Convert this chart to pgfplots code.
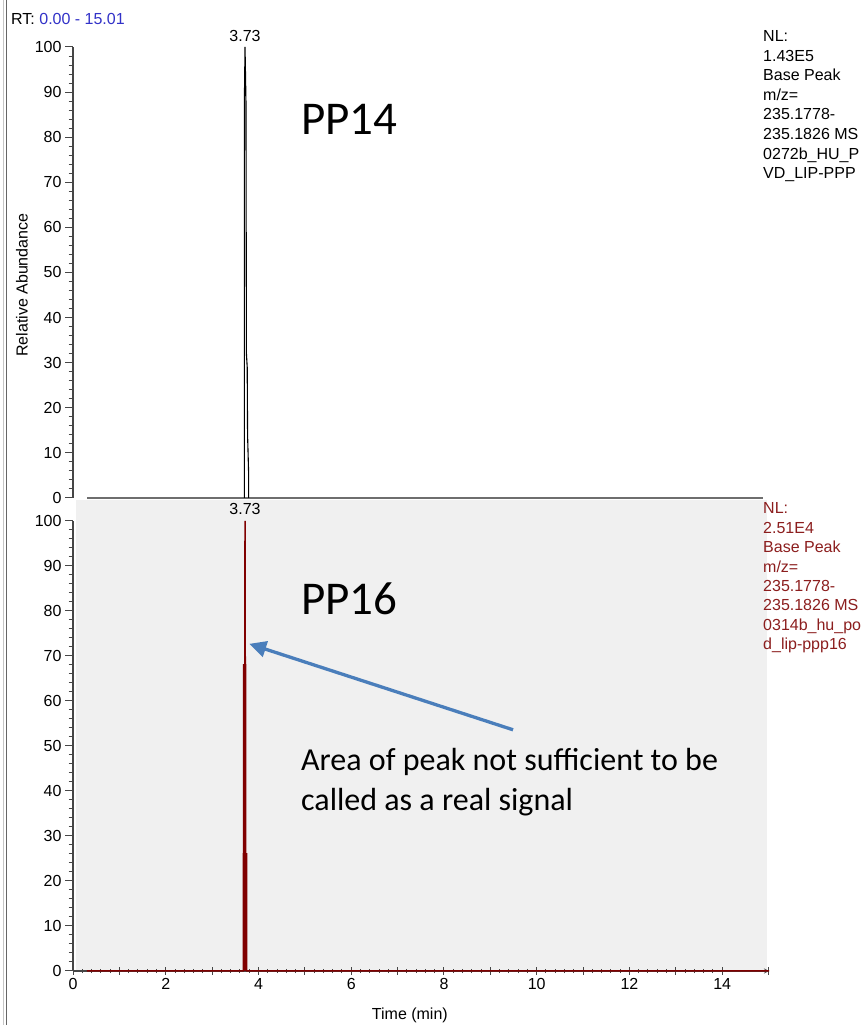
\documentclass[border=0pt]{standalone}
\usepackage{fontspec}
\setmainfont{Liberation Sans}
\newfontfamily\calibri{Carlito}
\usepackage{pgfplots}
\pgfplotsset{compat=1.18}
\usetikzlibrary{arrows.meta}
\definecolor{axgray}{RGB}{70,70,70}
\definecolor{linegray}{RGB}{110,110,110}
\definecolor{panelgray}{RGB}{240,240,240}
\definecolor{peakred}{RGB}{128,0,0}
\definecolor{infored}{RGB}{140,30,30}
\definecolor{rtblue}{RGB}{50,50,200}
\definecolor{arrowblue}{RGB}{74,126,187}
\newcommand{\fs}{\fontsize{16}{19}\selectfont}
\pgfplotsset{
 chrom/.style={
  scale only axis, width=696pt, height=451pt,
  xmin=0, xmax=15.01, ymin=0, ymax=100,
  axis y line=left, axis line style={-, axgray, line width=1.2pt},
  ytick={0,10,...,100}, minor y tick num=4,
  tick align=outside, major tick length=8pt, minor tick length=4.5pt,
  tick style={axgray, line width=1pt},
  ticklabel style={font=\fs},
  /pgf/number format/assume math mode=true,
  clip=false,
 }
}
\begin{document}
\begin{tikzpicture}
\path[use as bounding box, clip] (0,0) rectangle (864pt,1025pt);
\fill[white] (0,0) rectangle (864pt,1025pt);
% left double border
\draw[gray!45, line width=1pt] (3.5pt,0) -- (3.5pt,1025pt);
\draw[gray!80!black, line width=1pt] (6.7pt,0) -- (6.7pt,1025pt);
% RT label
\node[anchor=base west, font=\fs, inner sep=0pt] at (11pt,1000pt) {RT: \textcolor{rtblue}{0.00 - 15.01}};
% bottom panel background
\fill[panelgray] (76pt,54pt) rectangle (767pt,525pt);
% top axis baseline line
\draw[linegray, line width=2pt] (87pt,527pt) -- (763pt,527pt);

% ---------- top chromatogram ----------
\begin{axis}[chrom, at={(73pt,527pt)}, anchor=south west,
  axis x line=none, xtick=\empty,
  ylabel={Relative Abundance},
  ylabel style={font=\fs, at={(axis description cs:-0.0733,0.472)}, anchor=center}]
\addplot[black, line width=1.1pt] coordinates {
 (3.695,0) (3.695,87) (3.710,100) (3.730,88) (3.740,32) (3.757,29)
 (3.765,14) (3.786,6) (3.786,0)};
\node[font=\fs, anchor=base, inner sep=0pt, yshift=5pt] at (axis cs:3.71,100) {3.73};
\end{axis}

% ---------- bottom chromatogram ----------
\begin{axis}[chrom, at={(73pt,54pt)}, height=450pt, anchor=south west,
  axis x line=bottom,
  xtick={0,2,...,14}, minor x tick num=9,
  extra x ticks={1,3,...,15}, extra x tick labels={},
  xlabel={Time (min)},
  xlabel style={font=\fs, at={(axis description cs:0.484,-0.098)}, anchor=center}]
\addplot[peakred, line width=1.5pt, fill=peakred] coordinates {
 (0.3,0) (3.672,0) (3.672,26) (3.681,26) (3.681,68) (3.705,68) (3.710,100)
 (3.715,68) (3.724,68) (3.724,26) (3.746,26) (3.746,0) (15.01,0)};
\node[font=\fs, anchor=base, inner sep=0pt, yshift=6pt] at (axis cs:3.71,100) {3.73};
\draw[arrowblue, line width=3.3pt, -{Triangle[length=17pt,width=16pt]}]
  (axis cs:9.49,53.6) -- (axis cs:3.80,72.7);
\end{axis}

% labels
\node[anchor=base west, font=\calibri\fontsize{47}{50}\selectfont, inner sep=0pt] at (301pt,890pt) {PP14};
\node[anchor=base west, font=\calibri\fontsize{47}{50}\selectfont, inner sep=0pt] at (301pt,410pt) {PP16};
\node[anchor=base west, font=\calibri\fontsize{32}{38}\selectfont, inner sep=0pt] at (301pt,254pt) {Area of peak not sufficient to be};
\node[anchor=base west, font=\calibri\fontsize{32}{38}\selectfont, inner sep=0pt] at (301pt,214pt) {called as a real signal};

% info text top
\foreach \t [count=\i from 0] in {NL:, 1.43E5, Base Peak, m/z=, 235.1778-, 235.1826 MS, 0272b\_HU\_P, VD\_LIP-PPP}{
  \node[anchor=base west, font=\fs, inner sep=0pt] at (763pt,{(1025-41.5-19.6*\i)*1pt}) {\t};
}
% info text bottom
\foreach \t [count=\i from 0] in {NL:, 2.51E4, Base Peak, m/z=, 235.1778-, 235.1826 MS, 0314b\_hu\_po, d\_lip-ppp16}{
  \node[anchor=base west, font=\fs, inner sep=0pt, text=infored] at (763pt,{(1025-514-19.4*\i)*1pt}) {\t};
}
\end{tikzpicture}
\end{document}
